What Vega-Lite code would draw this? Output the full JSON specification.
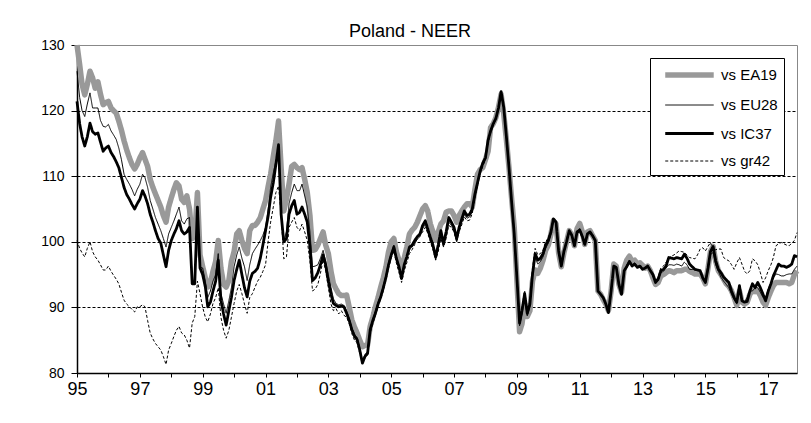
{
"$schema":"https://vega.github.io/schema/vega-lite/v6.json",
"autosize":{"type":"none"},
"width":720,"height":328,
"padding":{"left":77,"top":45,"right":14,"bottom":50},
"background":"white",
"title":{"text":"Poland - NEER","anchor":"middle","fontSize":18,"font":"Liberation Sans","fontWeight":"normal","color":"black","offset":-3,"dx":-27},
"config":{"view":{"stroke":"#888888"},"axis":{"labelFont":"Liberation Sans","labelColor":"black","domainColor":"black","tickColor":"black","domainWidth":1.5}},
"data":{"values":[
{"d":"1995-01-01","EA19":130,"EU28":126,"IC37":121.4,"gr42":100.2},
{"d":"1995-02-01","EA19":127,"EU28":122,"IC37":118,"gr42":99},
{"d":"1995-03-01","EA19":124,"EU28":120,"IC37":116,"gr42":98.3},
{"d":"1995-04-01","EA19":122.4,"EU28":119.1,"IC37":114.6,"gr42":97.7},
{"d":"1995-05-01","EA19":124,"EU28":121,"IC37":116,"gr42":99},
{"d":"1995-06-01","EA19":126,"EU28":122.7,"IC37":118.1,"gr42":100},
{"d":"1995-07-01","EA19":125,"EU28":120.4,"IC37":116.8,"gr42":98.5},
{"d":"1995-08-01","EA19":123.4,"EU28":120.4,"IC37":116.4,"gr42":97.7},
{"d":"1995-09-01","EA19":124.4,"EU28":120.4,"IC37":116.6,"gr42":97.2},
{"d":"1995-10-01","EA19":122.5,"EU28":118.5,"IC37":115.2,"gr42":96.5},
{"d":"1995-11-01","EA19":120.9,"EU28":117.6,"IC37":113.8,"gr42":95.7},
{"d":"1995-12-01","EA19":121.2,"EU28":117.5,"IC37":114.3,"gr42":95.7},
{"d":"1996-01-01","EA19":121.4,"EU28":117.9,"IC37":114.6,"gr42":96.3},
{"d":"1996-02-01","EA19":120.4,"EU28":116.9,"IC37":113.6,"gr42":95.5},
{"d":"1996-03-01","EA19":120,"EU28":116.3,"IC37":113,"gr42":94.9},
{"d":"1996-04-01","EA19":119.6,"EU28":115.6,"IC37":112.2,"gr42":94.3},
{"d":"1996-05-01","EA19":118.4,"EU28":114.3,"IC37":111.3,"gr42":93.6},
{"d":"1996-06-01","EA19":117,"EU28":112.5,"IC37":109.8,"gr42":92.3},
{"d":"1996-07-01","EA19":115.4,"EU28":110.3,"IC37":108.3,"gr42":91.1},
{"d":"1996-08-01","EA19":114,"EU28":109.5,"IC37":107.2,"gr42":90.5},
{"d":"1996-09-01","EA19":112.8,"EU28":108.8,"IC37":106.5,"gr42":90.1},
{"d":"1996-10-01","EA19":111.8,"EU28":108,"IC37":105.7,"gr42":89.7},
{"d":"1996-11-01","EA19":111.1,"EU28":107,"IC37":105,"gr42":89.3},
{"d":"1996-12-01","EA19":111.8,"EU28":108,"IC37":105.8,"gr42":90.1},
{"d":"1997-01-01","EA19":112.8,"EU28":108.8,"IC37":106.5,"gr42":90.1},
{"d":"1997-02-01","EA19":113.6,"EU28":110.3,"IC37":107.8,"gr42":90.4},
{"d":"1997-03-01","EA19":112.6,"EU28":109.8,"IC37":107,"gr42":90.1},
{"d":"1997-04-01","EA19":111.5,"EU28":108.3,"IC37":105.8,"gr42":88},
{"d":"1997-05-01","EA19":109.5,"EU28":106.3,"IC37":104.2,"gr42":86.1},
{"d":"1997-06-01","EA19":108.3,"EU28":105,"IC37":103,"gr42":85.2},
{"d":"1997-07-01","EA19":107.3,"EU28":103.7,"IC37":101.7,"gr42":84.5},
{"d":"1997-08-01","EA19":106.3,"EU28":102.7,"IC37":100.5,"gr42":84},
{"d":"1997-09-01","EA19":105.3,"EU28":101.7,"IC37":99.8,"gr42":83.5},
{"d":"1997-10-01","EA19":104,"EU28":100.5,"IC37":98,"gr42":82.5},
{"d":"1997-11-01","EA19":103,"EU28":99.2,"IC37":96.2,"gr42":81.3},
{"d":"1997-12-01","EA19":105.3,"EU28":101.2,"IC37":98.7,"gr42":83.5},
{"d":"1998-01-01","EA19":106.7,"EU28":102.2,"IC37":100.2,"gr42":84.5},
{"d":"1998-02-01","EA19":108,"EU28":103.2,"IC37":101.2,"gr42":85.6},
{"d":"1998-03-01","EA19":109,"EU28":104.2,"IC37":102,"gr42":86.5},
{"d":"1998-04-01","EA19":108.5,"EU28":105.3,"IC37":103.2,"gr42":87.1},
{"d":"1998-05-01","EA19":106.5,"EU28":103.2,"IC37":101.7,"gr42":86.1},
{"d":"1998-06-01","EA19":106,"EU28":102.7,"IC37":101.2,"gr42":85.8},
{"d":"1998-07-01","EA19":107,"EU28":103.5,"IC37":101.5,"gr42":85},
{"d":"1998-08-01","EA19":105,"EU28":103.7,"IC37":102.2,"gr42":83.8},
{"d":"1998-09-01","EA19":100.5,"EU28":94.1,"IC37":93.6,"gr42":87.6},
{"d":"1998-10-01","EA19":101,"EU28":94,"IC37":93.6,"gr42":88.6},
{"d":"1998-11-01","EA19":107.5,"EU28":104.2,"IC37":105.3,"gr42":94},
{"d":"1998-12-01","EA19":98,"EU28":96.2,"IC37":96,"gr42":92.1},
{"d":"1999-01-01","EA19":96.2,"EU28":96,"IC37":95,"gr42":90},
{"d":"1999-02-01","EA19":94.5,"EU28":94,"IC37":93.1,"gr42":88.5},
{"d":"1999-03-01","EA19":93.1,"EU28":91.5,"IC37":90.1,"gr42":87.8},
{"d":"1999-04-01","EA19":93.8,"EU28":92.5,"IC37":90.8,"gr42":89},
{"d":"1999-05-01","EA19":95.5,"EU28":94,"IC37":92.5,"gr42":90.6},
{"d":"1999-06-01","EA19":97,"EU28":95,"IC37":94,"gr42":91.5},
{"d":"1999-07-01","EA19":100.2,"EU28":98.2,"IC37":97.2,"gr42":93},
{"d":"1999-08-01","EA19":96,"EU28":92.1,"IC37":91.1,"gr42":88.5},
{"d":"1999-09-01","EA19":93.5,"EU28":90.5,"IC37":89,"gr42":86.5},
{"d":"1999-10-01","EA19":93.1,"EU28":89.1,"IC37":87.3,"gr42":85.3},
{"d":"1999-11-01","EA19":94.1,"EU28":91,"IC37":89.5,"gr42":86.5},
{"d":"1999-12-01","EA19":97,"EU28":93,"IC37":91.5,"gr42":88.5},
{"d":"2000-01-01","EA19":98.5,"EU28":96.2,"IC37":94.1,"gr42":90.6},
{"d":"2000-02-01","EA19":101.2,"EU28":98,"IC37":95.8,"gr42":92.5},
{"d":"2000-03-01","EA19":101.7,"EU28":99.2,"IC37":97.2,"gr42":93.5},
{"d":"2000-04-01","EA19":100.2,"EU28":97.5,"IC37":95,"gr42":92.1},
{"d":"2000-05-01","EA19":99,"EU28":96.2,"IC37":93,"gr42":90.5},
{"d":"2000-06-01","EA19":98.2,"EU28":94.1,"IC37":91.6,"gr42":89.1},
{"d":"2000-07-01","EA19":101.7,"EU28":96.5,"IC37":94,"gr42":91.5},
{"d":"2000-08-01","EA19":102.5,"EU28":98.2,"IC37":95.2,"gr42":92.1},
{"d":"2000-09-01","EA19":102.5,"EU28":98.9,"IC37":95.5,"gr42":93.1},
{"d":"2000-10-01","EA19":103,"EU28":99.5,"IC37":96,"gr42":94},
{"d":"2000-11-01","EA19":103.7,"EU28":100.2,"IC37":97.5,"gr42":94.6},
{"d":"2000-12-01","EA19":105,"EU28":101,"IC37":99.5,"gr42":95.5},
{"d":"2001-01-01","EA19":106.3,"EU28":102.2,"IC37":101.7,"gr42":96.5},
{"d":"2001-02-01","EA19":108.5,"EU28":105,"IC37":104,"gr42":100.2},
{"d":"2001-03-01","EA19":110.3,"EU28":108.3,"IC37":106.8,"gr42":103},
{"d":"2001-04-01","EA19":113,"EU28":110.5,"IC37":109,"gr42":105.3},
{"d":"2001-05-01","EA19":115.4,"EU28":112.3,"IC37":111.8,"gr42":107.5},
{"d":"2001-06-01","EA19":118.4,"EU28":113.8,"IC37":114.8,"gr42":108.5},
{"d":"2001-07-01","EA19":111.3,"EU28":104.2,"IC37":104.2,"gr42":104.2},
{"d":"2001-08-01","EA19":104.7,"EU28":100.2,"IC37":100,"gr42":97.4},
{"d":"2001-09-01","EA19":106.5,"EU28":101.5,"IC37":100.5,"gr42":97.7},
{"d":"2001-10-01","EA19":108.8,"EU28":105.8,"IC37":104.2,"gr42":102.2},
{"d":"2001-11-01","EA19":111.5,"EU28":107.5,"IC37":105.5,"gr42":103},
{"d":"2001-12-01","EA19":111.8,"EU28":108.8,"IC37":106.3,"gr42":103.7},
{"d":"2002-01-01","EA19":111.3,"EU28":107.8,"IC37":104.2,"gr42":102.2},
{"d":"2002-02-01","EA19":111,"EU28":107.8,"IC37":104.5,"gr42":101.7},
{"d":"2002-03-01","EA19":111.3,"EU28":108.8,"IC37":105.3,"gr42":102.7},
{"d":"2002-04-01","EA19":109.5,"EU28":107,"IC37":104.2,"gr42":101.5},
{"d":"2002-05-01","EA19":107.5,"EU28":105.3,"IC37":103,"gr42":100.2},
{"d":"2002-06-01","EA19":104,"EU28":101.5,"IC37":99.2,"gr42":97},
{"d":"2002-07-01","EA19":98.7,"EU28":96.2,"IC37":94.1,"gr42":92.5},
{"d":"2002-08-01","EA19":98.8,"EU28":96.3,"IC37":94.5,"gr42":92.8},
{"d":"2002-09-01","EA19":99.5,"EU28":96.5,"IC37":95.3,"gr42":93.5},
{"d":"2002-10-01","EA19":100.5,"EU28":97.5,"IC37":96.5,"gr42":95.2},
{"d":"2002-11-01","EA19":101.5,"EU28":98.7,"IC37":98,"gr42":97.3},
{"d":"2002-12-01","EA19":99.5,"EU28":97,"IC37":96.5,"gr42":95.5},
{"d":"2003-01-01","EA19":98.2,"EU28":95,"IC37":94,"gr42":93},
{"d":"2003-02-01","EA19":95.5,"EU28":93,"IC37":92,"gr42":90.5},
{"d":"2003-03-01","EA19":93.6,"EU28":91.3,"IC37":90.6,"gr42":89.5},
{"d":"2003-04-01","EA19":92.8,"EU28":90.6,"IC37":90.3,"gr42":89.8},
{"d":"2003-05-01","EA19":92.1,"EU28":90.4,"IC37":90.1,"gr42":89},
{"d":"2003-06-01","EA19":91.8,"EU28":90.5,"IC37":90.2,"gr42":89.5},
{"d":"2003-07-01","EA19":91.8,"EU28":90.3,"IC37":90.1,"gr42":88.8},
{"d":"2003-08-01","EA19":91.9,"EU28":89.5,"IC37":89.1,"gr42":88.5},
{"d":"2003-09-01","EA19":90,"EU28":88.3,"IC37":88,"gr42":87.5},
{"d":"2003-10-01","EA19":88.1,"EU28":86.9,"IC37":86.6,"gr42":86},
{"d":"2003-11-01","EA19":87,"EU28":85.9,"IC37":85.6,"gr42":85},
{"d":"2003-12-01","EA19":86.1,"EU28":85.4,"IC37":85.1,"gr42":84.6},
{"d":"2004-01-01","EA19":85,"EU28":83.8,"IC37":83.5,"gr42":83},
{"d":"2004-02-01","EA19":84,"EU28":81.8,"IC37":81.5,"gr42":81.6},
{"d":"2004-03-01","EA19":84.2,"EU28":82.8,"IC37":82.5,"gr42":82.3},
{"d":"2004-04-01","EA19":84.3,"EU28":83.3,"IC37":83,"gr42":82.8},
{"d":"2004-05-01","EA19":87.1,"EU28":86.8,"IC37":86.6,"gr42":86},
{"d":"2004-06-01","EA19":88.5,"EU28":88.2,"IC37":88,"gr42":87.5},
{"d":"2004-07-01","EA19":90.1,"EU28":89.4,"IC37":89.1,"gr42":88.8},
{"d":"2004-08-01","EA19":91.5,"EU28":90.8,"IC37":90.5,"gr42":90.2},
{"d":"2004-09-01","EA19":93.1,"EU28":91.9,"IC37":91.6,"gr42":91.3},
{"d":"2004-10-01","EA19":94.5,"EU28":93.3,"IC37":93,"gr42":92.5},
{"d":"2004-11-01","EA19":96.2,"EU28":94.9,"IC37":94.6,"gr42":94.2},
{"d":"2004-12-01","EA19":98.5,"EU28":96.8,"IC37":96.5,"gr42":96},
{"d":"2005-01-01","EA19":100,"EU28":98.3,"IC37":98,"gr42":97.5},
{"d":"2005-02-01","EA19":100.5,"EU28":99.5,"IC37":99.2,"gr42":98.6},
{"d":"2005-03-01","EA19":98.5,"EU28":97.8,"IC37":97.5,"gr42":96.8},
{"d":"2005-04-01","EA19":97.2,"EU28":96.2,"IC37":96.2,"gr42":95.3},
{"d":"2005-05-01","EA19":95.7,"EU28":94.5,"IC37":94.4,"gr42":93.8},
{"d":"2005-06-01","EA19":97.5,"EU28":96.3,"IC37":96.5,"gr42":95.6},
{"d":"2005-07-01","EA19":99.2,"EU28":97.5,"IC37":97.7,"gr42":96.8},
{"d":"2005-08-01","EA19":101.2,"EU28":98.8,"IC37":99.2,"gr42":98.2},
{"d":"2005-09-01","EA19":101.8,"EU28":99.2,"IC37":99.5,"gr42":98.8},
{"d":"2005-10-01","EA19":102.2,"EU28":99.8,"IC37":100.2,"gr42":99.6},
{"d":"2005-11-01","EA19":103,"EU28":100.4,"IC37":100.8,"gr42":100.5},
{"d":"2005-12-01","EA19":104,"EU28":100.8,"IC37":101.2,"gr42":101},
{"d":"2006-01-01","EA19":105,"EU28":102,"IC37":102.5,"gr42":101.5},
{"d":"2006-02-01","EA19":105.5,"EU28":102.7,"IC37":103.2,"gr42":102.2},
{"d":"2006-03-01","EA19":104.7,"EU28":101.5,"IC37":102,"gr42":101.3},
{"d":"2006-04-01","EA19":102.7,"EU28":100.2,"IC37":100.7,"gr42":100},
{"d":"2006-05-01","EA19":101.5,"EU28":99,"IC37":99.5,"gr42":98.8},
{"d":"2006-06-01","EA19":100.2,"EU28":97.3,"IC37":97.7,"gr42":97.2},
{"d":"2006-07-01","EA19":101.5,"EU28":99,"IC37":99.5,"gr42":98.5},
{"d":"2006-08-01","EA19":102.7,"EU28":101,"IC37":101.7,"gr42":100.5},
{"d":"2006-09-01","EA19":103.2,"EU28":99.3,"IC37":99.7,"gr42":99.2},
{"d":"2006-10-01","EA19":104.5,"EU28":101,"IC37":101.5,"gr42":100.5},
{"d":"2006-11-01","EA19":104.7,"EU28":103,"IC37":103.7,"gr42":102.5},
{"d":"2006-12-01","EA19":104.7,"EU28":102.5,"IC37":103,"gr42":102.2},
{"d":"2007-01-01","EA19":104,"EU28":101.6,"IC37":102.2,"gr42":101.5},
{"d":"2007-02-01","EA19":103,"EU28":100,"IC37":100.5,"gr42":100},
{"d":"2007-03-01","EA19":104,"EU28":101.7,"IC37":102.2,"gr42":101.5},
{"d":"2007-04-01","EA19":104.7,"EU28":103,"IC37":103.5,"gr42":102.6},
{"d":"2007-05-01","EA19":105.3,"EU28":104.2,"IC37":104.7,"gr42":103.8},
{"d":"2007-06-01","EA19":105.8,"EU28":103.6,"IC37":104,"gr42":103.2},
{"d":"2007-07-01","EA19":105.8,"EU28":103.8,"IC37":104.2,"gr42":103.3},
{"d":"2007-08-01","EA19":105.3,"EU28":104.6,"IC37":105,"gr42":104.3},
{"d":"2007-09-01","EA19":108,"EU28":106.9,"IC37":107.3,"gr42":106.8},
{"d":"2007-10-01","EA19":110.3,"EU28":108.7,"IC37":109,"gr42":108.5},
{"d":"2007-11-01","EA19":111,"EU28":110.5,"IC37":110.8,"gr42":110.5},
{"d":"2007-12-01","EA19":111.3,"EU28":111.7,"IC37":112,"gr42":111.5},
{"d":"2008-01-01","EA19":112.5,"EU28":112.6,"IC37":112.8,"gr42":112.5},
{"d":"2008-02-01","EA19":113.8,"EU28":115.2,"IC37":115.5,"gr42":115.2},
{"d":"2008-03-01","EA19":117.4,"EU28":116.7,"IC37":116.9,"gr42":116.6},
{"d":"2008-04-01","EA19":118,"EU28":117.8,"IC37":118,"gr42":117.8},
{"d":"2008-05-01","EA19":118.9,"EU28":118.7,"IC37":118.8,"gr42":118.8},
{"d":"2008-06-01","EA19":120.5,"EU28":120.3,"IC37":120.4,"gr42":120.3},
{"d":"2008-07-01","EA19":122.5,"EU28":122.8,"IC37":122.9,"gr42":122.8},
{"d":"2008-08-01","EA19":119.5,"EU28":120.3,"IC37":120.5,"gr42":120.5},
{"d":"2008-09-01","EA19":115.5,"EU28":115.8,"IC37":116,"gr42":116},
{"d":"2008-10-01","EA19":111.3,"EU28":111.2,"IC37":111.3,"gr42":111.5},
{"d":"2008-11-01","EA19":106.5,"EU28":106,"IC37":106,"gr42":106.3},
{"d":"2008-12-01","EA19":102.2,"EU28":101.2,"IC37":101.2,"gr42":101.5},
{"d":"2009-01-01","EA19":94,"EU28":94.3,"IC37":94.5,"gr42":95},
{"d":"2009-02-01","EA19":86.3,"EU28":87.2,"IC37":87.6,"gr42":88},
{"d":"2009-03-01","EA19":87.5,"EU28":89,"IC37":89.5,"gr42":90},
{"d":"2009-04-01","EA19":90.5,"EU28":91.6,"IC37":92.1,"gr42":92.6},
{"d":"2009-05-01","EA19":88.6,"EU28":88.7,"IC37":89.1,"gr42":89.6},
{"d":"2009-06-01","EA19":89.5,"EU28":90.1,"IC37":90.5,"gr42":91},
{"d":"2009-07-01","EA19":94,"EU28":94.6,"IC37":95,"gr42":96},
{"d":"2009-08-01","EA19":95.7,"EU28":97.6,"IC37":98.2,"gr42":99},
{"d":"2009-09-01","EA19":95.2,"EU28":96.6,"IC37":97.2,"gr42":98},
{"d":"2009-10-01","EA19":96,"EU28":97,"IC37":97.5,"gr42":98.2},
{"d":"2009-11-01","EA19":97.2,"EU28":97.7,"IC37":98.2,"gr42":98.8},
{"d":"2009-12-01","EA19":98.7,"EU28":99,"IC37":99.5,"gr42":100},
{"d":"2010-01-01","EA19":99.5,"EU28":99.8,"IC37":100.2,"gr42":100.6},
{"d":"2010-02-01","EA19":101.2,"EU28":101.2,"IC37":101.5,"gr42":101.8},
{"d":"2010-03-01","EA19":103.2,"EU28":103.3,"IC37":103.5,"gr42":103.6},
{"d":"2010-04-01","EA19":102.7,"EU28":102.8,"IC37":103,"gr42":103},
{"d":"2010-05-01","EA19":98.3,"EU28":98.4,"IC37":98.6,"gr42":98.5},
{"d":"2010-06-01","EA19":96.2,"EU28":96.2,"IC37":96.3,"gr42":96.2},
{"d":"2010-07-01","EA19":98.3,"EU28":98.4,"IC37":98.5,"gr42":98.4},
{"d":"2010-08-01","EA19":100,"EU28":100,"IC37":100,"gr42":100},
{"d":"2010-09-01","EA19":101.7,"EU28":101.7,"IC37":101.7,"gr42":101.6},
{"d":"2010-10-01","EA19":101,"EU28":101,"IC37":101,"gr42":100.8},
{"d":"2010-11-01","EA19":99.4,"EU28":99.4,"IC37":99.4,"gr42":99.3},
{"d":"2010-12-01","EA19":102,"EU28":101.6,"IC37":101.5,"gr42":101.3},
{"d":"2011-01-01","EA19":102.8,"EU28":102,"IC37":101.8,"gr42":101.5},
{"d":"2011-02-01","EA19":101.5,"EU28":101,"IC37":100.8,"gr42":100.6},
{"d":"2011-03-01","EA19":99.6,"EU28":99.6,"IC37":99.6,"gr42":99.5},
{"d":"2011-04-01","EA19":101.5,"EU28":101.3,"IC37":101.2,"gr42":101},
{"d":"2011-05-01","EA19":101.7,"EU28":101.6,"IC37":101.5,"gr42":101.3},
{"d":"2011-06-01","EA19":100.9,"EU28":100.9,"IC37":100.9,"gr42":100.8},
{"d":"2011-07-01","EA19":100.2,"EU28":100.2,"IC37":100.2,"gr42":100.1},
{"d":"2011-08-01","EA19":92.5,"EU28":92.5,"IC37":92.5,"gr42":92.5},
{"d":"2011-09-01","EA19":92,"EU28":92,"IC37":92,"gr42":92},
{"d":"2011-10-01","EA19":91.2,"EU28":91.4,"IC37":91.5,"gr42":91.5},
{"d":"2011-11-01","EA19":90.5,"EU28":90.5,"IC37":90.5,"gr42":90.5},
{"d":"2011-12-01","EA19":89.5,"EU28":89.3,"IC37":89.2,"gr42":89.2},
{"d":"2012-01-01","EA19":92.5,"EU28":92.5,"IC37":92.5,"gr42":92.5},
{"d":"2012-02-01","EA19":96.6,"EU28":96.4,"IC37":96.3,"gr42":96.2},
{"d":"2012-03-01","EA19":96.3,"EU28":96.2,"IC37":96.1,"gr42":96},
{"d":"2012-04-01","EA19":93.5,"EU28":93.5,"IC37":93.5,"gr42":93.5},
{"d":"2012-05-01","EA19":92.3,"EU28":92.1,"IC37":92,"gr42":92},
{"d":"2012-06-01","EA19":96,"EU28":95.7,"IC37":95.6,"gr42":95.6},
{"d":"2012-07-01","EA19":97.2,"EU28":96.5,"IC37":96.2,"gr42":96.2},
{"d":"2012-08-01","EA19":97.8,"EU28":97.2,"IC37":97,"gr42":97},
{"d":"2012-09-01","EA19":97,"EU28":96.5,"IC37":96.3,"gr42":96.3},
{"d":"2012-10-01","EA19":97.2,"EU28":96.8,"IC37":96.6,"gr42":96.6},
{"d":"2012-11-01","EA19":96.6,"EU28":96.2,"IC37":96.1,"gr42":96.1},
{"d":"2012-12-01","EA19":96.8,"EU28":96.4,"IC37":96.3,"gr42":96.3},
{"d":"2013-01-01","EA19":96.4,"EU28":95.9,"IC37":95.8,"gr42":95.8},
{"d":"2013-02-01","EA19":96,"EU28":96,"IC37":96,"gr42":96.1},
{"d":"2013-03-01","EA19":96.3,"EU28":96.3,"IC37":96.3,"gr42":96.4},
{"d":"2013-04-01","EA19":95.6,"EU28":95.6,"IC37":95.6,"gr42":95.8},
{"d":"2013-05-01","EA19":94.5,"EU28":94.8,"IC37":95,"gr42":95.2},
{"d":"2013-06-01","EA19":93.5,"EU28":93.7,"IC37":93.8,"gr42":94},
{"d":"2013-07-01","EA19":93.8,"EU28":94.1,"IC37":94.3,"gr42":94.6},
{"d":"2013-08-01","EA19":94.8,"EU28":95.3,"IC37":95.6,"gr42":96},
{"d":"2013-09-01","EA19":95,"EU28":95.5,"IC37":95.8,"gr42":96.3},
{"d":"2013-10-01","EA19":95.3,"EU28":96,"IC37":96.3,"gr42":96.9},
{"d":"2013-11-01","EA19":95.6,"EU28":96.5,"IC37":97.6,"gr42":97.5},
{"d":"2013-12-01","EA19":95.5,"EU28":96.5,"IC37":97.5,"gr42":97.8},
{"d":"2014-01-01","EA19":95.3,"EU28":96.4,"IC37":97.4,"gr42":98},
{"d":"2014-02-01","EA19":95.6,"EU28":96.6,"IC37":97.6,"gr42":98.3},
{"d":"2014-03-01","EA19":95.6,"EU28":96.5,"IC37":97.5,"gr42":98.6},
{"d":"2014-04-01","EA19":95.6,"EU28":96.3,"IC37":97.4,"gr42":98.5},
{"d":"2014-05-01","EA19":95.8,"EU28":96.9,"IC37":98.1,"gr42":98.4},
{"d":"2014-06-01","EA19":95.8,"EU28":96.5,"IC37":97.5,"gr42":98},
{"d":"2014-07-01","EA19":95.5,"EU28":95.8,"IC37":96.6,"gr42":97.6},
{"d":"2014-08-01","EA19":95.3,"EU28":95.8,"IC37":96.2,"gr42":97.5},
{"d":"2014-09-01","EA19":95.1,"EU28":95.7,"IC37":95.8,"gr42":97.4},
{"d":"2014-10-01","EA19":95.1,"EU28":95.6,"IC37":95.7,"gr42":98},
{"d":"2014-11-01","EA19":95.1,"EU28":95.6,"IC37":95.6,"gr42":98.9},
{"d":"2014-12-01","EA19":94.5,"EU28":94.5,"IC37":94.5,"gr42":99.1},
{"d":"2015-01-01","EA19":93.6,"EU28":93.8,"IC37":93.8,"gr42":98.6},
{"d":"2015-02-01","EA19":96,"EU28":96.5,"IC37":96,"gr42":99.3},
{"d":"2015-03-01","EA19":98.5,"EU28":98,"IC37":98.5,"gr42":99.9},
{"d":"2015-04-01","EA19":99.3,"EU28":98.4,"IC37":99.3,"gr42":98.6},
{"d":"2015-05-01","EA19":97,"EU28":96.5,"IC37":97.1,"gr42":98.8},
{"d":"2015-06-01","EA19":95.6,"EU28":95.5,"IC37":95.8,"gr42":98.9},
{"d":"2015-07-01","EA19":95,"EU28":94.6,"IC37":95.3,"gr42":98.9},
{"d":"2015-08-01","EA19":94.3,"EU28":94,"IC37":94.6,"gr42":97.6},
{"d":"2015-09-01","EA19":93.6,"EU28":93.5,"IC37":94.2,"gr42":97.3},
{"d":"2015-10-01","EA19":93.2,"EU28":93,"IC37":93.8,"gr42":97.1},
{"d":"2015-11-01","EA19":92.5,"EU28":92,"IC37":92.5,"gr42":96.5},
{"d":"2015-12-01","EA19":91.5,"EU28":91.2,"IC37":91.5,"gr42":95.8},
{"d":"2016-01-01","EA19":90.3,"EU28":90.5,"IC37":90.8,"gr42":96.8},
{"d":"2016-02-01","EA19":92.5,"EU28":92.5,"IC37":93.3,"gr42":97.6},
{"d":"2016-03-01","EA19":90.8,"EU28":91,"IC37":91,"gr42":96.6},
{"d":"2016-04-01","EA19":90.5,"EU28":90.8,"IC37":90.8,"gr42":95.5},
{"d":"2016-05-01","EA19":90.8,"EU28":91.5,"IC37":90.9,"gr42":95.1},
{"d":"2016-06-01","EA19":92,"EU28":92.5,"IC37":92.5,"gr42":95.6},
{"d":"2016-07-01","EA19":92.5,"EU28":92.5,"IC37":93.6,"gr42":97.4},
{"d":"2016-08-01","EA19":92.4,"EU28":93,"IC37":93,"gr42":97.1},
{"d":"2016-09-01","EA19":92.5,"EU28":93,"IC37":93.8,"gr42":96.5},
{"d":"2016-10-01","EA19":91.8,"EU28":92.3,"IC37":93,"gr42":95.3},
{"d":"2016-11-01","EA19":90.8,"EU28":91.5,"IC37":92,"gr42":93.8},
{"d":"2016-12-01","EA19":90.3,"EU28":91.5,"IC37":91,"gr42":94.5},
{"d":"2017-01-01","EA19":91.5,"EU28":92.8,"IC37":92.5,"gr42":95.6},
{"d":"2017-02-01","EA19":92.5,"EU28":93.8,"IC37":93.6,"gr42":96.5},
{"d":"2017-03-01","EA19":93.3,"EU28":94.5,"IC37":94.8,"gr42":97.6},
{"d":"2017-04-01","EA19":93.8,"EU28":95.1,"IC37":95.7,"gr42":99.4},
{"d":"2017-05-01","EA19":93.8,"EU28":95,"IC37":96.6,"gr42":99.7},
{"d":"2017-06-01","EA19":93.8,"EU28":94.8,"IC37":96.3,"gr42":99.9},
{"d":"2017-07-01","EA19":93.8,"EU28":94.8,"IC37":96.3,"gr42":99.7},
{"d":"2017-08-01","EA19":93.8,"EU28":95,"IC37":96.1,"gr42":99.5},
{"d":"2017-09-01","EA19":93.6,"EU28":95.1,"IC37":96.3,"gr42":99.4},
{"d":"2017-10-01","EA19":93.8,"EU28":95.1,"IC37":96.6,"gr42":99.8},
{"d":"2017-11-01","EA19":95,"EU28":95.8,"IC37":97.9,"gr42":100.2},
{"d":"2017-12-01","EA19":95.6,"EU28":96.3,"IC37":97.7,"gr42":101.4}
]},
"transform":[{"fold":["EA19","EU28","IC37","gr42"],"as":["s","v"]}],
"mark":{"type":"line","strokeJoin":"round","strokeCap":"butt"},
"encoding":{
"x":{"field":"d","type":"temporal","scale":{"type":"utc","domain":[{"year":1995,"month":1,"date":1,"utc":true},{"year":2017,"month":12,"date":1,"utc":true}],"nice":false},
 "axis":{"title":null,"values":[{"year":1995,"month":1,"date":1,"utc":true},{"year":1996,"month":1,"date":1,"utc":true},{"year":1997,"month":1,"date":1,"utc":true},{"year":1998,"month":1,"date":1,"utc":true},{"year":1999,"month":1,"date":1,"utc":true},{"year":2000,"month":1,"date":1,"utc":true},{"year":2001,"month":1,"date":1,"utc":true},{"year":2002,"month":1,"date":1,"utc":true},{"year":2003,"month":1,"date":1,"utc":true},{"year":2004,"month":1,"date":1,"utc":true},{"year":2005,"month":1,"date":1,"utc":true},{"year":2006,"month":1,"date":1,"utc":true},{"year":2007,"month":1,"date":1,"utc":true},{"year":2008,"month":1,"date":1,"utc":true},{"year":2009,"month":1,"date":1,"utc":true},{"year":2010,"month":1,"date":1,"utc":true},{"year":2011,"month":1,"date":1,"utc":true},{"year":2012,"month":1,"date":1,"utc":true},{"year":2013,"month":1,"date":1,"utc":true},{"year":2014,"month":1,"date":1,"utc":true},{"year":2015,"month":1,"date":1,"utc":true},{"year":2016,"month":1,"date":1,"utc":true},{"year":2017,"month":1,"date":1,"utc":true}],
 "labelExpr":"utcyear(datum.value) % 2 == 1 ? utcFormat(datum.value, '%y') : ''","labelFontSize":18,"labelPadding":3,"tickSize":4,"grid":false,"labelOverlap":false,"labelFlush":false}},
"y":{"field":"v","type":"quantitative","scale":{"domain":[80,130],"nice":false,"zero":false},
 "axis":{"title":null,"values":[80,90,100,110,120,130],"labelFontSize":14,"tickSize":6,"labelPadding":7,"grid":true,"gridDash":[3,2],"gridWidth":1,"gridColor":{"condition":{"test":"datum.value == 130","value":"#888888"},"value":"#000000"}}},
"color":{"field":"s","type":"nominal","scale":{"domain":["EA19","EU28","IC37","gr42"],"range":["#999999","#000000","#000000","#000000"]},
 "legend":{"title":null,"orient":"top-right","offset":13,"symbolType":"M-0.22,0H5.84","symbolSize":256,"labelOffset":43,"labelFontSize":15,"labelFont":"Liberation Sans","labelColor":"black","rowPadding":10.5,"padding":6,"strokeColor":"black","fillColor":"white","labelExpr":"'vs ' + datum.label"}},
"strokeWidth":{"field":"s","type":"nominal","scale":{"type":"ordinal","domain":["EA19","EU28","IC37","gr42"],"range":[5.5,1,2.8,1]},
 "legend":{"title":null,"orient":"top-right","offset":13,"symbolType":"M-0.22,0H5.84","symbolSize":256,"labelOffset":43,"labelFontSize":15,"labelFont":"Liberation Sans","labelColor":"black","rowPadding":10.5,"padding":6,"strokeColor":"black","fillColor":"white","labelExpr":"'vs ' + datum.label"}},
"strokeDash":{"field":"s","type":"nominal","scale":{"domain":["EA19","EU28","IC37","gr42"],"range":[[1,0],[1,0],[1,0],[3,2]]},
 "legend":{"title":null,"orient":"top-right","offset":13,"symbolType":"M-0.22,0H5.84","symbolSize":256,"labelOffset":43,"labelFontSize":15,"labelFont":"Liberation Sans","labelColor":"black","rowPadding":10.5,"padding":6,"strokeColor":"black","fillColor":"white","labelExpr":"'vs ' + datum.label"}}
}
}
